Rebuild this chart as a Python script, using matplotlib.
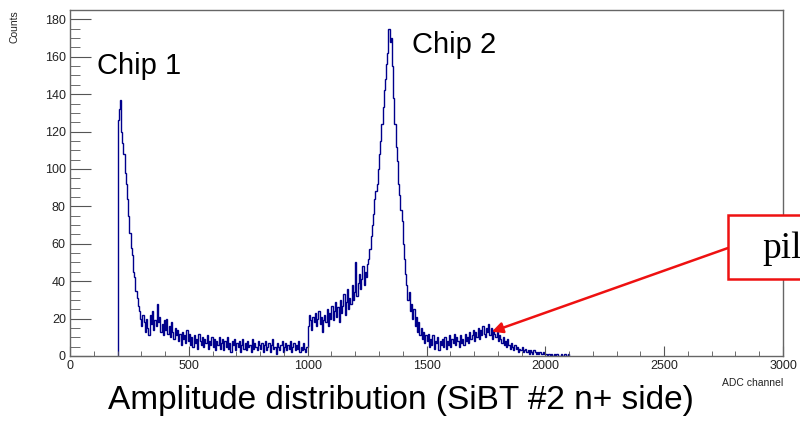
import matplotlib
matplotlib.use("Agg")
import matplotlib.pyplot as plt
import matplotlib.patches as mpatches
from matplotlib.ticker import MultipleLocator
import numpy as np

plt.rcParams["font.family"] = ["Liberation Sans", "DejaVu Sans"]

# ---------------------------------------------------------------------------
# Data: counts per 5-channel bin (bins start at ADC 200)
# ---------------------------------------------------------------------------
BIN_START = 200
BIN_WIDTH = 5
counts = [
    # 200 - 395  (chip 1 edge)
    126, 132, 137, 120, 114, 108, 98, 92, 84, 75,
    66, 58, 54, 45, 42, 35, 31, 27, 24, 20,
    16, 22, 18, 13, 20, 15, 11, 22, 17, 24,
    14, 19, 16, 28, 18, 21, 13, 17, 11, 19,
    # 400 - 595
    14, 20, 12, 16, 10, 18, 13, 9, 15, 11,
    14, 8, 12, 6, 13, 9, 11, 7, 14, 8,
    12, 6, 10, 5, 11, 7, 9, 4, 12, 8,
    6, 10, 5, 9, 7, 11, 4, 8, 6, 10,
    # 600 - 795
    5, 9, 3, 8, 6, 10, 4, 7, 9, 3,
    8, 5, 10, 4, 7, 2, 8, 6, 9, 3,
    7, 5, 8, 2, 6, 9, 4, 7, 3, 8,
    5, 6, 2, 9, 4, 7, 5, 3, 8, 6,
    # 800 - 995
    4, 7, 2, 6, 8, 3, 5, 7, 2, 6,
    9, 4, 5, 1, 7, 5, 3, 6, 8, 2,
    5, 7, 3, 6, 4, 8, 2, 5, 7, 3,
    6, 4, 8, 2, 5, 3, 7, 4, 2, 5,
    # 1000 - 1195  (chip 2 threshold)
    16, 22, 19, 14, 21, 18, 23, 16, 20, 24,
    17, 21, 13, 19, 22, 18, 25, 16, 23, 20,
    27, 19, 24, 29, 21, 26, 18, 30, 23, 27,
    33, 22, 29, 36, 25, 31, 28, 38, 30, 34,
    # 1200 - 1395  (chip 2 peak)
    50, 32, 39, 44, 36, 41, 48, 38, 45, 42,
    49, 52, 57, 64, 70, 76, 84, 88, 92, 100,
    108, 115, 124, 133, 142, 148, 156, 162, 175, 168,
    170, 155, 138, 124, 112, 104, 92, 86, 78, 72,
    # 1400 - 1595
    60, 52, 44, 38, 30, 34, 24, 28, 20, 25,
    16, 21, 13, 18, 11, 15, 9, 13, 7, 11,
    8, 12, 5, 9, 6, 11, 4, 8, 7, 10,
    3, 8, 6, 9, 5, 10, 4, 8, 6, 11,
    # 1600 - 1795  (pile-up bump)
    5, 9, 7, 12, 6, 10, 8, 5, 11, 7,
    9, 6, 12, 8, 10, 7, 13, 9, 11, 14,
    8, 13, 10, 15, 9, 14, 11, 16, 12, 10,
    15, 13, 17, 11, 15, 9, 14, 12, 10, 13,
    # 1800 - 1995
    8, 11, 9, 7, 10, 6, 8, 5, 9, 6,
    4, 7, 5, 3, 6, 4, 5, 2, 4, 3,
    5, 2, 3, 4, 2, 3, 1, 3, 2, 1,
    3, 2, 1, 2, 1, 2, 1, 1, 2, 1,
    # 2000 - 2095
    1, 0, 1, 1, 0, 1, 0, 1, 0, 1,
    1, 0, 0, 1, 0, 0, 1, 0, 0, 1,
]
edges = BIN_START + BIN_WIDTH * np.arange(len(counts) + 1)

# annotation target (pile-up bump)
pileup_x, pileup_y = 1775, 13


def main() -> None:
    fig = plt.figure(figsize=(8, 4.24), dpi=100)
    W, H = 800, 424
    ax = fig.add_axes([70 / W, 1 - 356 / H, 713 / W, 346 / H])

    ax.stairs(counts, edges, baseline=0, color="#00008c", lw=1.0)

    ax.set_xlim(0, 3000)
    ax.set_ylim(0, 185)

    # ROOT-like frame and ticks
    for sp in ax.spines.values():
        sp.set_color("#666666")
        sp.set_linewidth(1.0)
    ax.xaxis.set_major_locator(MultipleLocator(500))
    ax.xaxis.set_minor_locator(MultipleLocator(100))
    ax.yaxis.set_major_locator(MultipleLocator(20))
    ax.yaxis.set_minor_locator(MultipleLocator(5))
    ax.tick_params(axis="both", which="both", direction="in", color="#555555",
                   top=False, right=False, labelsize=9, labelcolor="#222222")
    ax.tick_params(axis="y", which="major", length=15, pad=3)
    ax.tick_params(axis="y", which="minor", length=7.5)
    ax.tick_params(axis="x", which="major", length=7, pad=3)
    ax.tick_params(axis="x", which="minor", length=3.5)

    fig.text(15 / W, 1 - 10 / H, "Counts", rotation=90, ha="center", va="top",
             fontsize=7.5, color="#222222")
    fig.text(783 / W, 1 - 383 / H, "ADC channel", ha="right", va="center",
             fontsize=7.5, color="#222222")

    # labels for the peaks
    fig.text(97 / W, 1 - 66 / H, "Chip 1", ha="left", va="center", fontsize=21)
    fig.text(412 / W, 1 - 45 / H, "Chip 2", ha="left", va="center", fontsize=21)

    fig.text(108 / W, 1 - 401 / H, "Amplitude distribution (SiBT #2 n+ side)",
             ha="left", va="center", fontsize=24)

    # pile-up box (runs off the right edge of the figure, as in the slide)
    box = mpatches.Rectangle((728 / W, 1 - 279 / H), 200 / W, 64 / H,
                             transform=fig.transFigure, fc="white",
                             ec="#ee1111", lw=1.8, zorder=5)
    fig.patches.append(box)
    fig.text(762 / W, 1 - 249 / H, "pile-up", ha="left", va="center",
             fontsize=27, family="Liberation Serif", zorder=6)

    ax.annotate("", xy=(pileup_x, pileup_y), xycoords="data",
                xytext=(728 / W, 1 - 248 / H), textcoords="figure fraction",
                annotation_clip=False,
                arrowprops=dict(arrowstyle="-|>", color="#ee1111", lw=1.8,
                                mutation_scale=16, shrinkA=0, shrinkB=0))

    fig.savefig("out.png", dpi=100)
    plt.close(fig)


if __name__ == "__main__":
    main()
